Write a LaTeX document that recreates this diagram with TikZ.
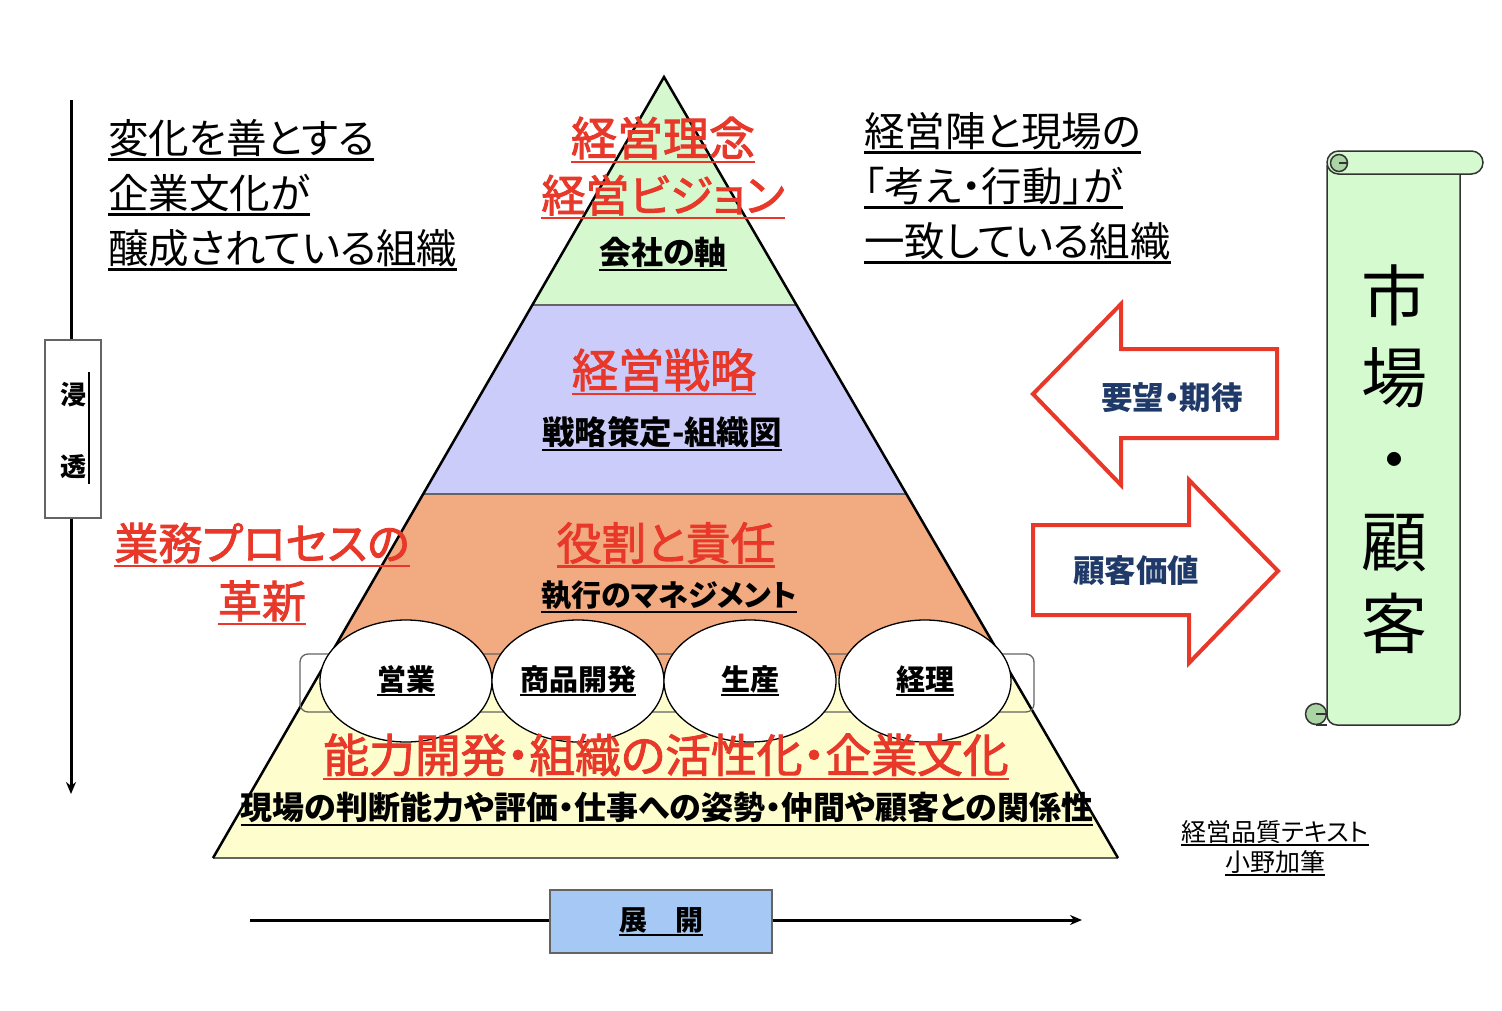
\documentclass[tikz,border=0pt]{standalone}
\usepackage{fontspec}
\setmainfont{Noto Sans CJK JP}[RawFeature=+palt]
\usetikzlibrary{arrows.meta,shapes.geometric}
\definecolor{tgreen}{RGB}{214,248,206}
\definecolor{tpurple}{RGB}{204,204,250}
\definecolor{torange}{RGB}{242,170,128}
\definecolor{tyellow}{RGB}{253,253,206}
\definecolor{tred}{RGB}{232,56,42}
\definecolor{tnavy}{RGB}{31,58,104}
\definecolor{tblue}{RGB}{166,200,245}
\definecolor{sgreen}{RGB}{214,250,208}
\definecolor{sdark}{RGB}{170,212,164}
\definecolor{edgegray}{RGB}{100,100,100}
\newcommand\ULn[1]{\setbox0\hbox{#1}\leavevmode\vtop{\copy0\kern0.03em\hrule height 0.06em}}
\newcommand\fs[1]{\fontsize{#1}{#1}\selectfont}
\newcommand\redfont[1]{\fs{#1}\addfontfeature{FakeBold=2}}
\tikzset{
  redh/.style={text=tred, font=\redfont{46}, inner sep=0pt},
  blk/.style={text=black, font=\fs{32}\bfseries, inner sep=0pt},
  lefttxt/.style={text=black, font=\fs{40.5}, inner sep=0pt, anchor=west},
  ell/.style={ellipse, draw=black, fill=white, line width=1.3pt, minimum width=172pt, minimum height=122pt, inner sep=0pt, font=\fs{29}\bfseries},
  bigarrow/.style={draw=tred, fill=white, line width=4pt, line join=miter},
  navytxt/.style={text=tnavy, font=\fs{31.5}\bfseries, inner sep=0pt},
  scroll/.style={draw=black!80, fill=sgreen, line width=1.5pt},
  axisline/.style={line width=3pt, black},
}
\begin{document}
\begin{tikzpicture}[x=1pt,y=-1pt]
\useasboundingbox[fill=white] (0,0) rectangle (1502,1010);

% pyramid
\fill[tgreen] (664,77) -- (796.5,305) -- (532.3,305) -- cycle;
\fill[tpurple] (532.3,305) -- (796.5,305) -- (906.4,494) -- (423.2,494) -- cycle;
\fill[torange] (423.2,494) -- (906.4,494) -- (1012.2,676) -- (318.1,676) -- cycle;
\fill[tyellow] (318.1,676) -- (1012.2,676) -- (1118,858) -- (213,858) -- cycle;
\draw[edgegray, line width=1.2pt] (532.3,305) -- (796.5,305);
\draw[edgegray, line width=1.2pt] (423.2,494) -- (906.4,494);
\draw[edgegray, line width=1.5pt] (213,858) -- (1118,858);
\draw[black, line width=2.5pt, line join=miter] (213,858) -- (664,77) -- (1118,858);

% band
\draw[edgegray, line width=1.3pt, rounded corners=8pt] (300,654) rectangle (1034,712);
\node[ell] (e1) at (406,681) {\ULn{営業}};
\node[ell] (e2) at (578,681) {\ULn{商品開発}};
\node[ell] (e3) at (750,681) {\ULn{生産}};
\node[ell] (e4) at (925,681) {\ULn{経理}};

% pyramid texts
\node[redh] (t1) at (663,140) {\ULn{経営理念}};
\node[redh, font=\redfont{44}] (t2) at (663,197) {\ULn{経営ビジョン}};
\node[blk] (t3) at (663,254) {\ULn{会社の軸}};
\node[redh] (t4) at (664,372) {\ULn{経営戦略}};
\node[blk, font=\fs{32.5}\bfseries] (t5) at (662,434) {\ULn{戦略策定-組織図}};
\node[redh, font=\redfont{44.8}] (t6) at (666,545) {\ULn{役割と責任}};
\node[blk, font=\fs{30}\bfseries] (t7) at (669,597) {\ULn{執行のマネジメント}};
\node[redh, font=\redfont{45.8}] (t8) at (666,757) {\ULn{能力開発・組織の活性化・企業文化}};
\node[blk] (t9) at (667,809) {\ULn{現場の判断能力や評価・仕事への姿勢・仲間や顧客との関係性}};

% left texts
\node[lefttxt] (l1) at (108,140) {\ULn{変化を善とする}};
\node[lefttxt] (l2) at (108,195) {\ULn{企業文化が}};
\node[lefttxt] (l3) at (108,250) {\ULn{醸成されている組織}};
\node[redh, font=\redfont{44}] (l4) at (262,545) {\ULn{業務プロセスの}};
\node[redh, font=\redfont{44}] (l5) at (262,603) {\ULn{革新}};

% right texts
\node[lefttxt] (r1) at (864,133) {\ULn{経営陣と現場の}};
\node[lefttxt] (r2) at (864,188) {\ULn{「考え・行動」が}};
\node[lefttxt] (r3) at (864,243) {\ULn{一致している組織}};

% vertical axis
\node[draw=edgegray, fill=white, line width=1.2pt, minimum width=56pt, minimum height=178pt, inner sep=0pt] (shinbox) at (73,429) {};
\node[font=\fs{26}\bfseries, inner sep=0pt] (c1) at (73,395) {浸};
\node[font=\fs{26}\bfseries, inner sep=0pt] (c2) at (73,467) {透};
\coordinate (ulA) at (89,372);
\coordinate (ulB) at (89,484);
\draw[line width=1.2pt] (ulA) -- (ulB);
\coordinate (vtop) at (71,100);
\coordinate (vbot) at (71,794);
\draw[axisline] (vtop) -- (vtop |- shinbox.north);
\draw[axisline, -{Stealth[length=12pt,width=10pt]}] (vtop |- shinbox.south) -- (vbot);

% horizontal axis
\node[draw=edgegray, fill=tblue, line width=1.2pt, minimum width=222pt, minimum height=63pt, inner sep=0pt, font=\fs{28}\bfseries] (tenkai) at (661,921.5) {\ULn{展　開}};
\coordinate (hleft) at (250,920);
\coordinate (hright) at (1082,920);
\draw[axisline] (hleft) -- (hleft -| tenkai.west);
\draw[axisline, -{Stealth[length=12pt,width=10pt]}] (hright -| tenkai.east) -- (hright);

% block arrows
\draw[bigarrow] (1033,394) -- (1121,304) -- (1121,349) -- (1277,349) -- (1277,438) -- (1121,438) -- (1121,485) -- cycle;
\draw[bigarrow] (1033,525) -- (1189,525) -- (1189,480) -- (1278,571) -- (1189,663) -- (1189,615) -- (1033,615) -- cycle;
\node[navytxt] (a1) at (1172,398) {要望・期待};
\node[navytxt] (a2) at (1136,571) {顧客価値};

% scroll
\filldraw[scroll, rounded corners=10pt] (1327,165) -- (1327,725) -- (1460,725) -- (1460,165);
\filldraw[scroll, rounded corners=11.5pt] (1327,151) rectangle (1483,174);
\filldraw[draw=black!80, fill=sdark, line width=1.5pt] (1339,163) circle (8.5pt);
\draw[black!80, line width=1.5pt] (1339,163) -- (1348,163);
\filldraw[draw=black!80, fill=sdark, line width=1.5pt] (1316,714) circle (10.5pt);
\draw[black!80, line width=1.5pt] (1316,714) -- (1327,714);
\draw[black!80, line width=1.5pt] (1316,725) -- (1327,725);
\node[font=\fs{66}, align=center, inner sep=0pt] (mk) at (1394,459) {市\\[16pt]場\\[16pt]・\\[16pt]顧\\[16pt]客};

% credit
\node[font=\fs{25}, inner sep=0pt] (cr1) at (1275,833) {\ULn{経営品質テキスト}};
\node[font=\fs{25}, inner sep=0pt] (cr2) at (1275,863) {\ULn{小野加筆}};
\end{tikzpicture}
\end{document}
